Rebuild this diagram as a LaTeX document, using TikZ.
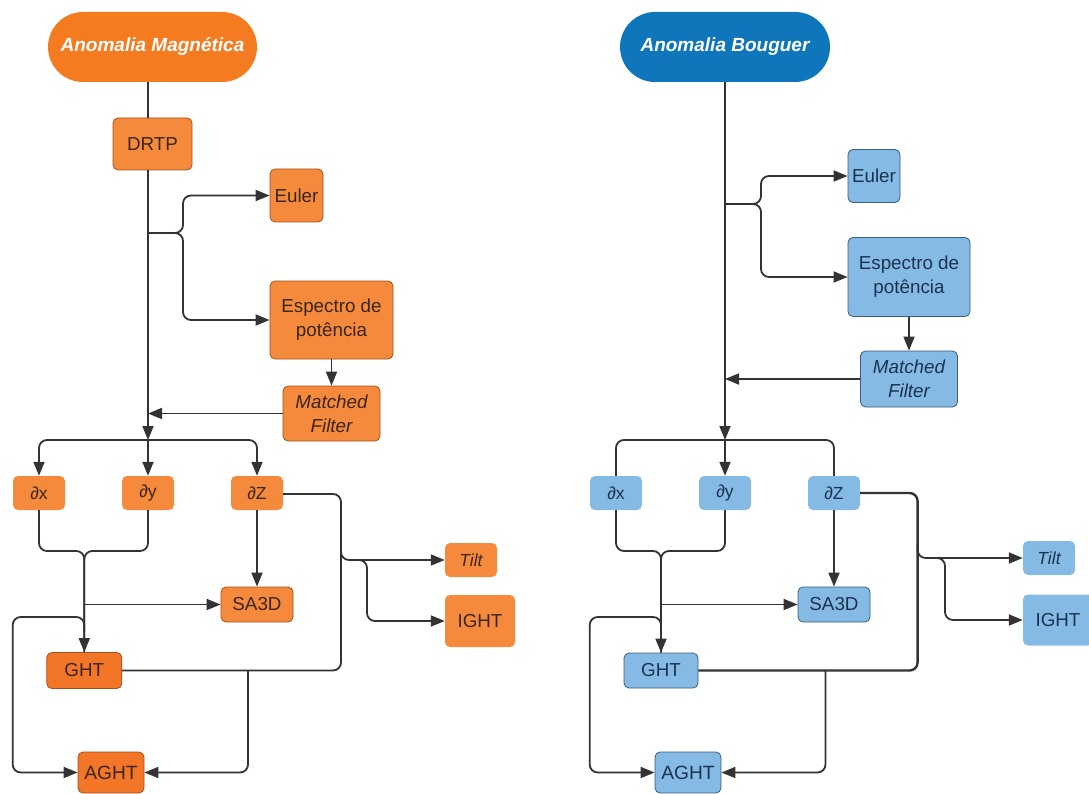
\documentclass[tikz,border=0pt]{standalone}
\usepackage{fontspec}
\setmainfont{Liberation Sans}
\usetikzlibrary{arrows.meta,shapes.misc,calc}
\definecolor{ln}{HTML}{333333}
\definecolor{orpill}{HTML}{F57B20}
\definecolor{orbox}{HTML}{F68A3C}
\definecolor{ordark}{HTML}{F37527}
\definecolor{orline}{HTML}{A0501E}
\definecolor{ortext}{HTML}{3A2618}
\definecolor{blpill}{HTML}{0F76BB}
\definecolor{blbox}{HTML}{84BAE4}
\definecolor{blline}{HTML}{3D5C7C}
\definecolor{bltext}{HTML}{1C3350}
\tikzset{
  sz/.style 2 args={minimum width=#1pt, minimum height=#2pt},
  pill/.style={rounded rectangle, inner sep=0pt, text=white,
    font=\fontsize{19}{22}\selectfont\bfseries\itshape},
  base/.style={rounded corners=5pt, align=center, inner sep=0pt},
  bigtxt/.style={font=\fontsize{18.8}{24}\selectfont},
  bigit/.style={font=\fontsize{18.8}{24}\selectfont\itshape},
  smalltxt/.style={font=\fontsize{17.5}{20}\selectfont},
  smallit/.style={font=\fontsize{17.5}{20}\selectfont\itshape},
  obox/.style={base, draw=orline, line width=0.8pt, fill=orbox, text=ortext},
  odark/.style={base, draw=orline, line width=0.8pt, fill=ordark, text=ortext},
  osm/.style={base, fill=orbox, text=ortext},
  bbox/.style={base, draw=blline, line width=0.8pt, fill=blbox, text=bltext},
  bsm/.style={base, fill=blbox, text=bltext},
  conn/.style={draw=ln, line width=1.8pt},
  arr/.style={conn, -{Triangle[length=14pt,width=11pt]}},
  rnd/.style={rounded corners=8pt},
}
\begin{document}
\begin{tikzpicture}[x=1pt, y=-1pt]
\useasboundingbox (0,0) rectangle (1089,794);

% ---------------- LEFT (magnetic) ----------------
\node[pill, fill=orpill, sz={209}{70}] (amL) at (152.5,47) {Anomalia Magnética};
\node[obox, bigtxt, sz={79}{52}] (drtpL) at (152.5,144) {DRTP};
\node[obox, bigtxt, sz={53}{53}] (eulL) at (296.5,195.5) {Euler};
\node[obox, bigtxt, sz={123}{78}] (espL) at (331.5,320) {Espectro de\\potência};
\node[obox, bigit, sz={97}{55}] (mfL) at (331.5,413.5) {Matched\\Filter};
\node[osm, smalltxt, sz={52}{34}] (dxL) at (39,493) {∂x};
\node[osm, smalltxt, sz={52}{34}] (dyL) at (148,493) {∂y};
\node[osm, smalltxt, sz={52}{34}] (dzL) at (257,493) {∂Z};
\node[obox, bigtxt, sz={72}{35}] (saL) at (257,604.5) {SA3D};
\node[osm, smallit, sz={52}{34}] (tiltL) at (471,560) {Tilt};
\node[osm, bigtxt, sz={70}{52}] (ightL) at (480,621) {IGHT};
\node[odark, bigtxt, sz={75}{36}] (ghtL) at (84.3,670.5) {GHT};
\node[odark, bigtxt, font=\fontsize{19.2}{24}\selectfont, sz={66}{41}] (aghtL) at (111,772.5) {AGHT};

\coordinate (jL) at (148,440);
\coordinate (bL) at (148,233);
\coordinate (mL) at (84.3,551);
\coordinate (cL1) at (341,494);
\coordinate (cL2) at (341,670.5);
\coordinate (tL) at (341,545);
\coordinate (iL) at (352,560);
\coordinate (aL) at (248,670.5);
\coordinate (lL) at (84.3,632);

\draw[conn] (amL.south -| jL) -- (drtpL.north -| jL);
\draw[arr] (drtpL.south -| jL) -- (jL);
\draw[arr] (jL) -- (dyL);
\draw[arr,rnd] (bL) -- ++(35,0) |- (eulL);
\draw[arr,rnd] (bL) -- ++(35,0) |- (espL);
\draw[arr] (espL) -- (mfL);
\draw[arr] (mfL) -- (mfL -| jL);
\draw[arr,rnd] (jL) -| (dxL);
\draw[arr,rnd] (jL) -| (dzL);
\draw[conn,rnd] (dxL) |- (mL) -- (ghtL);
\draw[arr,rnd] (dyL) |- (mL) -- (ghtL);
\draw[arr] (mL |- saL) -- (saL);
\draw[arr] (dzL) -- (saL);
\draw[conn,rnd] (dzL.east |- cL1) -- (cL1) -- (cL2) -- (ghtL.east);
\draw[arr,rnd] (tL) |- (tiltL);
\draw[arr,rnd] (iL) -| ++(15,20) |- (ightL);
\draw[arr,rnd] (aL) |- (aghtL);
\draw[arr,rnd] (lL) -- ++(0,-15) -| ++(-71.6,40) |- (aghtL);

% ---------------- RIGHT (Bouguer) ----------------
\node[pill, fill=blpill, sz={210}{70}] (amR) at (725,47) {Anomalia Bouguer};
\node[bbox, bigtxt, sz={52}{53}] (eulR) at (874,176) {Euler};
\node[bbox, bigtxt, sz={122}{79}] (espR) at (909,277) {Espectro de\\potência};
\node[bbox, bigit, sz={97}{56}] (mfR) at (909,379) {Matched\\Filter};
\node[bsm, smalltxt, sz={52}{34}] (dxR) at (616,493) {∂x};
\node[bsm, smalltxt, sz={52}{34}] (dyR) at (725,493) {∂y};
\node[bsm, smalltxt, sz={52}{34}] (dzR) at (834,493) {∂Z};
\node[bbox, bigtxt, sz={72}{35}] (saR) at (834,604.5) {SA3D};
\node[bsm, smallit, sz={52}{34}] (tiltR) at (1049,558) {Tilt};
\node[bsm, bigtxt, sz={70}{51}] (ightR) at (1058,620) {IGHT};
\node[bbox, bigtxt, sz={74}{35}] (ghtR) at (661,670.5) {GHT};
\node[bbox, bigtxt, font=\fontsize{19.2}{24}\selectfont, sz={66}{41}] (aghtR) at (688,772.5) {AGHT};

\coordinate (jR) at (725,440);
\coordinate (bR) at (725,204);
\coordinate (mR) at (661,551);
\coordinate (cR1) at (917.6,493);
\coordinate (cR2) at (917.6,670.5);
\coordinate (tR) at (917.6,544);
\coordinate (iR) at (930,558);
\coordinate (aR) at (825.5,670.5);
\coordinate (lR) at (661,632);

\draw[arr] (amR) -- (jR);
\draw[arr] (jR) -- (dyR);
\draw[arr,rnd] (bR) -- ++(36,0) |- (eulR);
\draw[arr,rnd] (bR) -- ++(36,0) |- (espR);
\draw[conn,line width=2.6pt] (bR) -- ++(30,0);
\draw[arr] (espR) -- (mfR);
\draw[arr] (mfR) -- (mfR -| jR);
\draw[conn,rnd] (jR) -| (dxR);
\draw[conn,rnd] (jR) -| (dzR);
\draw[conn,rnd] (dxR) |- (mR) -- (ghtR);
\draw[arr,rnd] (dyR) |- (mR) -- (ghtR);
\draw[arr] (mR |- saR) -- (saR);
\draw[arr] (dzR) -- (saR);
\draw[conn,rnd,line width=2.4pt] (dzR.east) -- (cR1) -- (cR2) -- (ghtR.east);
\draw[arr,rnd] (tR) |- (tiltR);
\draw[arr,rnd] (iR) -| ++(15,20) |- (ightR);
\draw[arr,rnd] (aR) |- (aghtR);
\draw[arr,rnd] (lR) -- ++(0,-15) -| ++(-71.3,40) |- (aghtR);
\end{tikzpicture}
\end{document}
